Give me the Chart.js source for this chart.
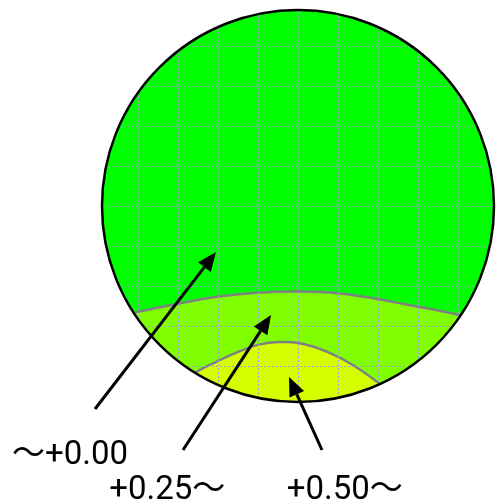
<!DOCTYPE html>
<html>
<head>
<meta charset="utf-8">
<script src="https://cdn.jsdelivr.net/npm/chart.js@4"></script>
<style>
    html, body { margin: 0; padding: 0; background: #ffffff; }
    #wrap { width: 496px; height: 503px; }
</style>
</head>
<body>
<div id="wrap"><canvas id="contourChart" width="496" height="503"></canvas></div>
<script>
// ============================================================================
// DATA (grid units: one grid cell = 1)
// ============================================================================

const circleCenter = [0, 0];
const circleRadius = 4.9;
const gridStep = 1;

// boundary between "~+0.00" and "+0.25~"
const boundary1X = [-4.4, -4.075, -3.03, -2.03, -1.03, 0.01, 1.01, 2.01, 3.01, 4.05, 4.4];
const boundary1Y = [-2.75, -2.66, -2.45, -2.27, -2.17, -2.14, -2.18, -2.33, -2.52, -2.73, -2.85];

// boundary between "+0.25~" and "+0.50~"
const boundary2X = [-2.9, -2.53, -2.03, -1.45, -0.95, -0.49, 0.05, 0.72, 1.38, 2.05, 2.4];
const boundary2Y = [-4.4, -4.14, -3.89, -3.63, -3.46, -3.40, -3.43, -3.64, -3.98, -4.45, -4.75];

const regionLabels = ['〜+0.00', '+0.25〜', '+0.50〜'];
const regionColors = ['#00ff00', '#80ff00', '#d4ff00'];
const labelX = [-7.15, -4.72, -0.28];
const labelY = [-6.45, -7.325, -7.325];
const arrowTailX = [-5.075, -2.875, 0.6];
const arrowTailY = [-5.075, -6.1, -6.1];
const arrowTipX = [-2.05, -0.675, -0.225];
const arrowTipY = [-1.15, -2.725, -4.275];

const toPoints = (xs, ys) => xs.map((x, i) => ({ x: x, y: ys[i] }));

// ============================================================================
// HELPERS
// ============================================================================

function circlePath(chart) {
    const ctx = chart.ctx;
    const xs = chart.scales.x;
    const ys = chart.scales.y;
    const cx = xs.getPixelForValue(circleCenter[0]);
    const cy = ys.getPixelForValue(circleCenter[1]);
    const r = xs.getPixelForValue(circleCenter[0] + circleRadius) - cx;
    ctx.beginPath();
    ctx.arc(cx, cy, r, 0, Math.PI * 2);
}

function drawArrow(ctx, x1, y1, x2, y2) {
    const ang = Math.atan2(y2 - y1, x2 - x1);
    const headLen = 19;
    const headHalf = 8;
    const bx = x2 - Math.cos(ang) * headLen;
    const by = y2 - Math.sin(ang) * headLen;
    ctx.beginPath();
    ctx.moveTo(x1, y1);
    ctx.lineTo(bx, by);
    ctx.strokeStyle = '#000000';
    ctx.lineWidth = 3;
    ctx.stroke();
    ctx.beginPath();
    ctx.moveTo(x2, y2);
    ctx.lineTo(bx + Math.sin(ang) * headHalf, by - Math.cos(ang) * headHalf);
    ctx.lineTo(bx - Math.sin(ang) * headHalf, by + Math.cos(ang) * headHalf);
    ctx.closePath();
    ctx.fillStyle = '#000000';
    ctx.fill();
}

// ============================================================================
// CIRCLE, GRID AND ANNOTATION PLUGIN
// ============================================================================

const circlePlugin = {
    id: 'circlePlugin',
    beforeDatasetsDraw(chart) {
        const ctx = chart.ctx;
        ctx.save();
        circlePath(chart);
        ctx.fillStyle = regionColors[0];
        ctx.fill();
        circlePath(chart);
        ctx.clip();
    },
    afterDatasetsDraw(chart) {
        const ctx = chart.ctx;
        const xs = chart.scales.x;
        const ys = chart.scales.y;

        // dotted grid, still clipped to the circle
        ctx.strokeStyle = '#a0a0c8';
        ctx.lineWidth = 1;
        ctx.setLineDash([2, 2]);
        for (let v = Math.ceil(xs.min / gridStep) * gridStep; v <= xs.max; v += gridStep) {
            const px = Math.round(xs.getPixelForValue(v)) + 0.5;
            ctx.beginPath();
            ctx.moveTo(px, chart.chartArea.top);
            ctx.lineTo(px, chart.chartArea.bottom);
            ctx.stroke();
        }
        for (let v = Math.ceil(ys.min / gridStep) * gridStep; v <= ys.max; v += gridStep) {
            const py = Math.round(ys.getPixelForValue(v)) + 0.5;
            ctx.beginPath();
            ctx.moveTo(chart.chartArea.left, py);
            ctx.lineTo(chart.chartArea.right, py);
            ctx.stroke();
        }
        ctx.setLineDash([]);
        ctx.restore();

        // outline
        ctx.save();
        circlePath(chart);
        ctx.strokeStyle = '#000000';
        ctx.lineWidth = 2.5;
        ctx.stroke();

        // arrows
        arrowTailX.forEach((x, i) => {
            drawArrow(ctx,
                xs.getPixelForValue(x), ys.getPixelForValue(arrowTailY[i]),
                xs.getPixelForValue(arrowTipX[i]), ys.getPixelForValue(arrowTipY[i]));
        });

        // labels
        ctx.fillStyle = '#000000';
        ctx.font = '33px Roboto, "Noto Sans CJK JP", sans-serif';
        ctx.textAlign = 'left';
        ctx.textBaseline = 'alphabetic';
        regionLabels.forEach((t, i) => {
            ctx.fillText(t, xs.getPixelForValue(labelX[i]), ys.getPixelForValue(labelY[i]));
        });
        ctx.restore();
    }
};

// ============================================================================
// CHART
// ============================================================================

const chartCtx = document.getElementById('contourChart');

new Chart(chartCtx, {
    type: 'scatter',
    data: {
        datasets: [{
            label: regionLabels[1],
            data: toPoints(boundary1X, boundary1Y),
            order: 2,
            showLine: true,
            tension: 0.4,
            borderColor: '#808080',
            borderWidth: 2.5,
            backgroundColor: regionColors[1],
            fill: 'start',
            pointRadius: 0
        }, {
            label: regionLabels[2],
            data: toPoints(boundary2X, boundary2Y),
            order: 1,
            showLine: true,
            tension: 0.4,
            borderColor: '#808080',
            borderWidth: 2.5,
            backgroundColor: regionColors[2],
            fill: 'start',
            pointRadius: 0
        }]
    },
    options: {
        responsive: false,
        animation: false,
        layout: { padding: 0 },
        plugins: {
            legend: { display: false },
            tooltip: { enabled: false },
            title: { display: false }
        },
        scales: {
            x: { type: 'linear', display: false, min: -7.45, max: 4.95 },
            y: { type: 'linear', display: false, min: -7.425, max: 5.15 }
        }
    },
    plugins: [circlePlugin]
});
</script>
</body>
</html>
